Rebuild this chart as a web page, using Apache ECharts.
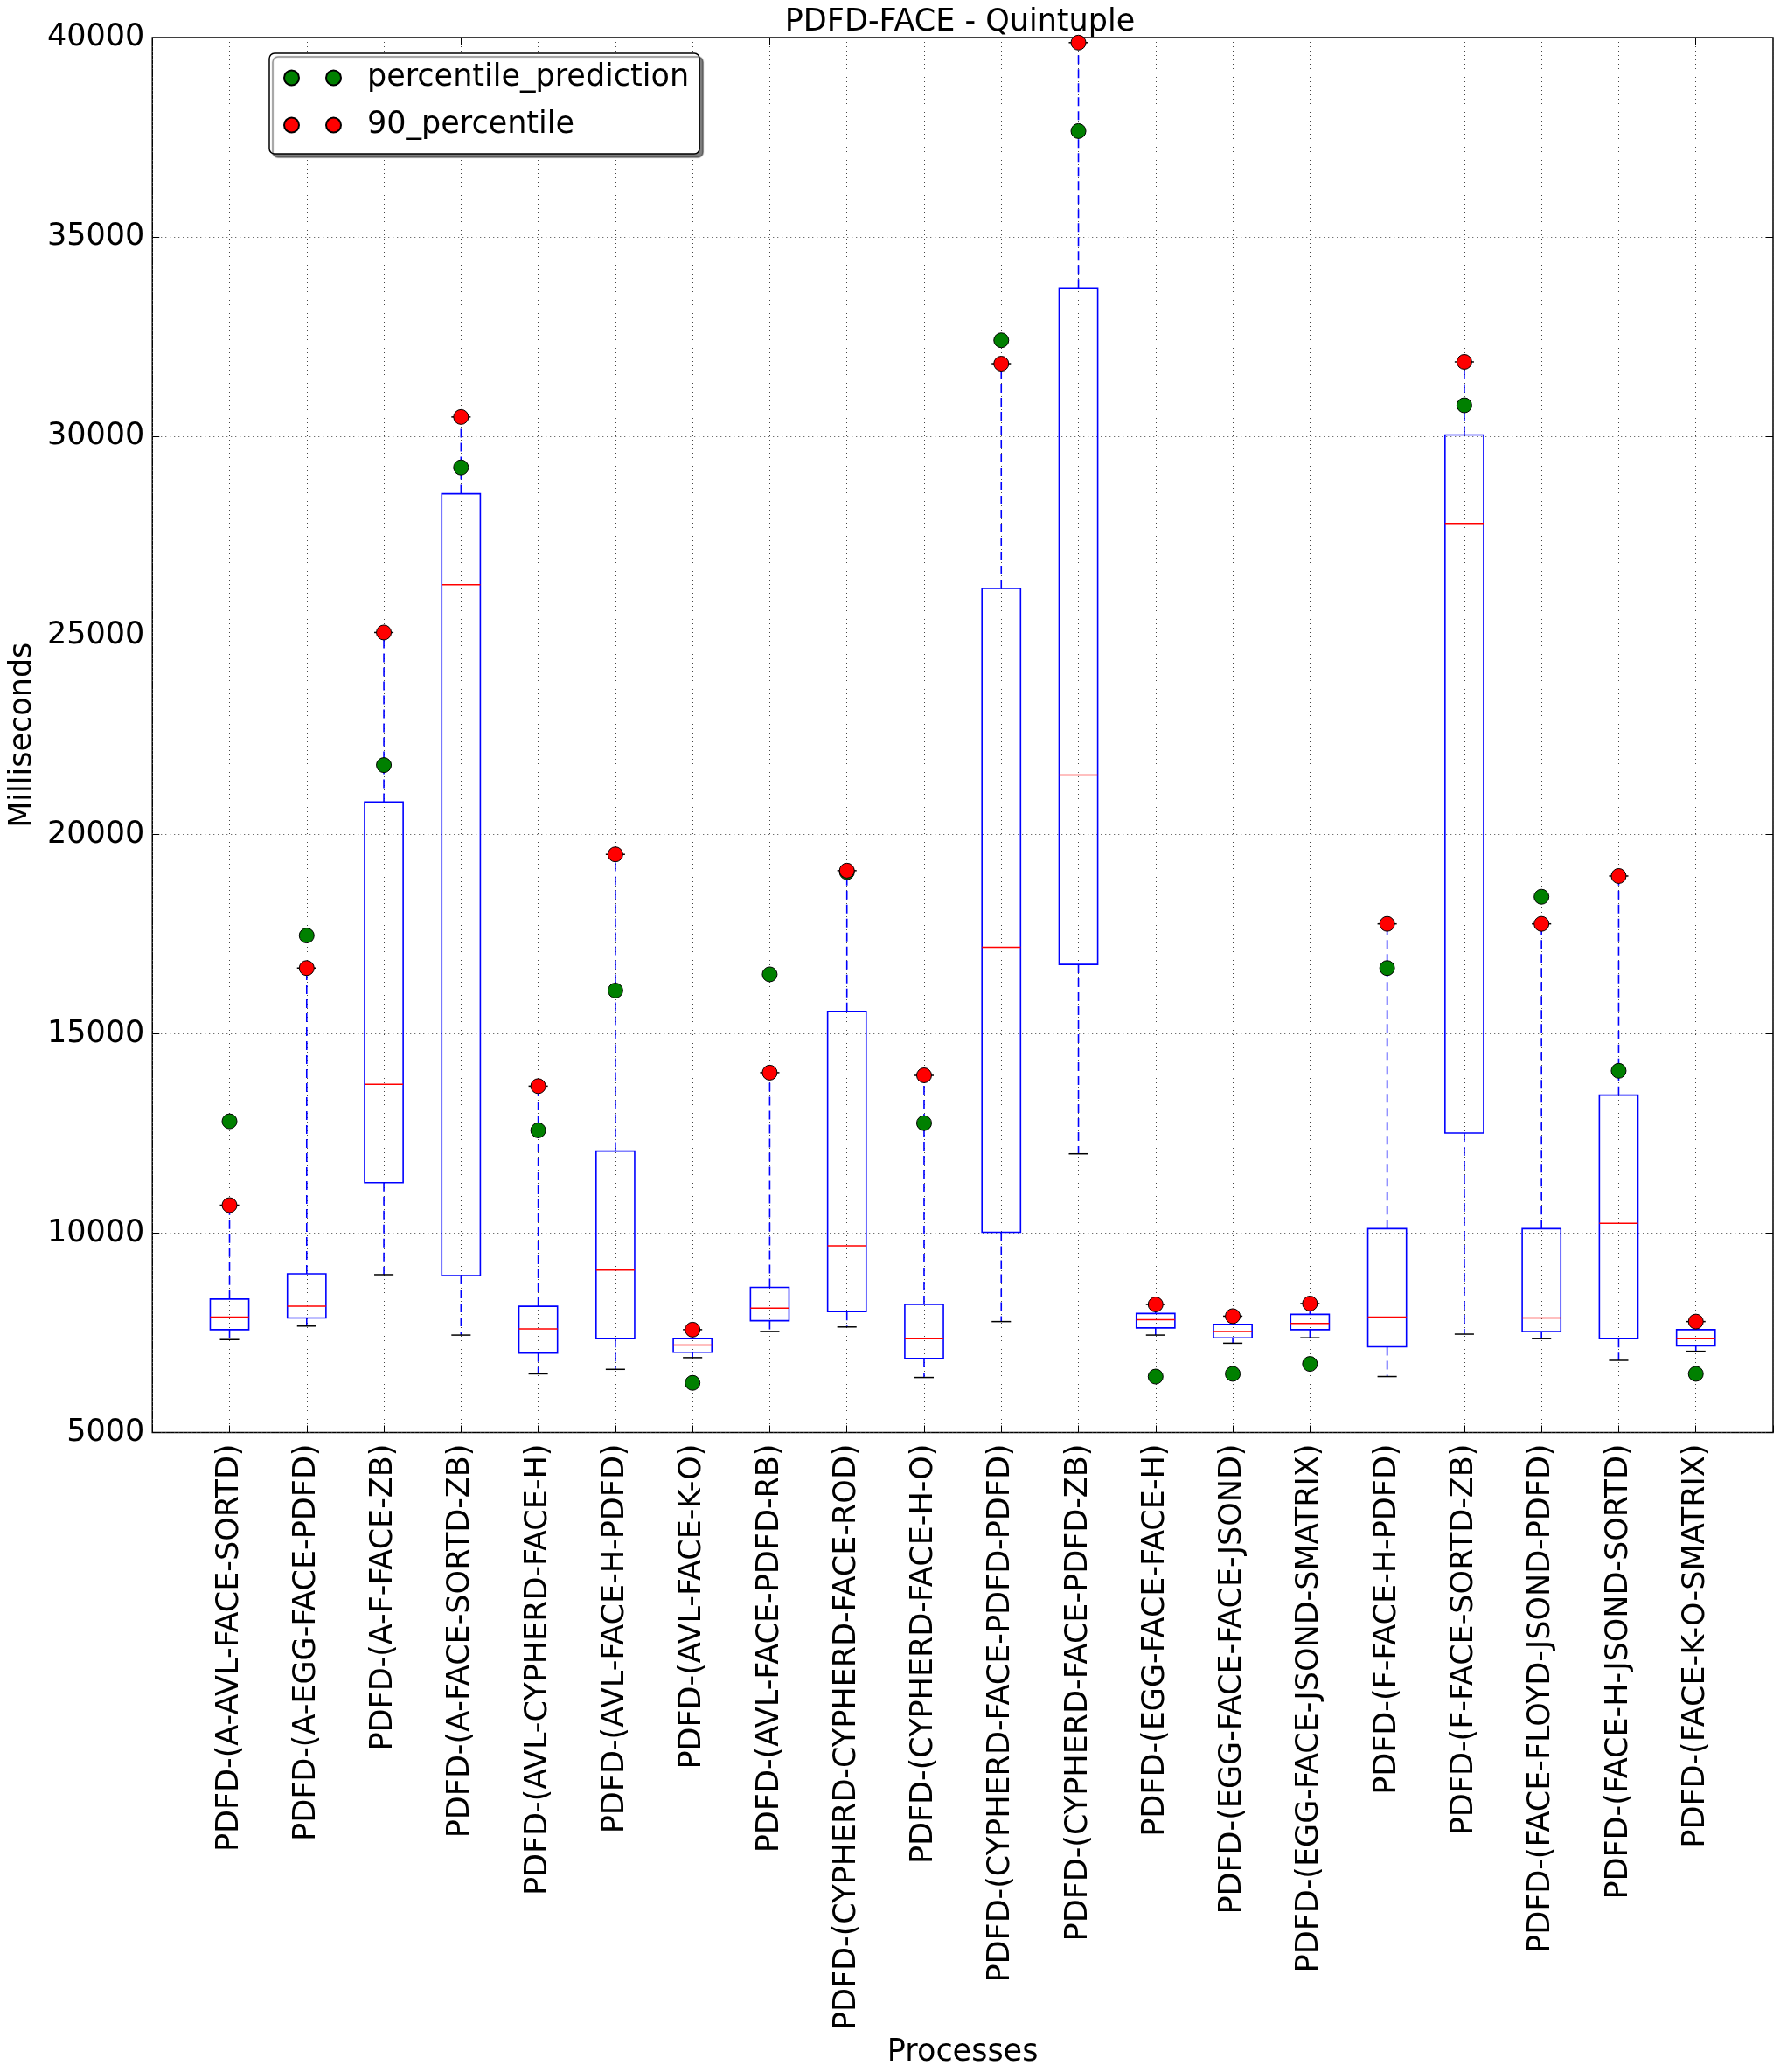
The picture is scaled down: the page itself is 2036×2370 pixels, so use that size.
<!DOCTYPE html>
<html>
<head>
<meta charset="utf-8">
<script src="https://cdn.jsdelivr.net/npm/echarts@6/dist/echarts.min.js"></script>
<style>
html,body{margin:0;padding:0;background:#fff;}
#chart{width:2036px;height:2370px;}
</style>
</head>
<body>
<div id="chart"></div>
<script>
// ---- Data ----
var categories = [
  'PDFD-(A-AVL-FACE-SORTD)',
  'PDFD-(A-EGG-FACE-PDFD)',
  'PDFD-(A-F-FACE-ZB)',
  'PDFD-(A-FACE-SORTD-ZB)',
  'PDFD-(AVL-CYPHERD-FACE-H)',
  'PDFD-(AVL-FACE-H-PDFD)',
  'PDFD-(AVL-FACE-K-O)',
  'PDFD-(AVL-FACE-PDFD-RB)',
  'PDFD-(CYPHERD-CYPHERD-FACE-ROD)',
  'PDFD-(CYPHERD-FACE-H-O)',
  'PDFD-(CYPHERD-FACE-PDFD-PDFD)',
  'PDFD-(CYPHERD-FACE-PDFD-ZB)',
  'PDFD-(EGG-FACE-FACE-H)',
  'PDFD-(EGG-FACE-FACE-JSOND)',
  'PDFD-(EGG-FACE-JSOND-SMATRIX)',
  'PDFD-(F-FACE-H-PDFD)',
  'PDFD-(F-FACE-SORTD-ZB)',
  'PDFD-(FACE-FLOYD-JSOND-PDFD)',
  'PDFD-(FACE-H-JSOND-SORTD)',
  'PDFD-(FACE-K-O-SMATRIX)'
];
var whiskerLow = [7331, 7670, 8960, 7444, 6471, 6584, 6878, 7535, 7648, 6380, 7783, 11993, 7444, 7240, 7376, 6403, 7467, 7354, 6810, 7037];
var q1 =         [7580, 7874, 11269, 8938, 6991, 7354, 7014, 7806, 8032, 6856, 10024, 16745, 7625, 7376, 7580, 7150, 12513, 7535, 7354, 7172];
var median =     [7897, 8168, 13735, 26272, 7602, 9073, 7195, 8123, 9684, 7354, 17175, 21497, 7829, 7535, 7738, 7897, 27811, 7874, 10250, 7354];
var q3 =         [8349, 8983, 20818, 28558, 8168, 12061, 7354, 8643, 15568, 8213, 26182, 33718, 7987, 7716, 7965, 10114, 30029, 10114, 13464, 7580];
// upper whisker ends at the 90th percentile
var p90 =        [10703, 16654, 25073, 30482, 13690, 19506, 7580, 14029, 19098, 13961, 31817, 39873, 8213, 7919, 8236, 17763, 31862, 17763, 18963, 7783];
var prediction = [12807, 17469, 21746, 29214, 12581, 16089, 6245, 16496, 19060, 12762, 32405, 37655, 6403, 6471, 6720, 16654, 30775, 18442, 14075, 6471];

var yTicks = { min: 5000, max: 40000, interval: 5000 };

// padded category list so that boxes sit at 1..20 on a 0..21 range
var axisCats = [''].concat(categories).concat(['']);

var boxData = categories.map(function (c, i) {
  return [c, whiskerLow[i], q1[i], median[i], q3[i], p90[i]];
});
var predData = categories.map(function (c, i) { return [c, prediction[i]]; });
var p90Data = categories.map(function (c, i) { return [c, p90[i]]; });

var FONT = 'DejaVu Sans';
var FS = 35;
var twoDots = 'path://M0,8.5a8.5,8.5 0 1,0 17,0a8.5,8.5 0 1,0 -17,0zM48,8.5a8.5,8.5 0 1,0 17,0a8.5,8.5 0 1,0 -17,0z';

var chart = echarts.init(document.getElementById('chart'), null, { renderer: 'canvas' });

function renderBox(params, api) {
  var x = api.value(0);
  var band = api.size([1, 0])[0];
  var bw = band * 0.5, cw = band * 0.25;
  var pLo = api.coord([x, api.value(1)]);
  var pQ1 = api.coord([x, api.value(2)]);
  var pMed = api.coord([x, api.value(3)]);
  var pQ3 = api.coord([x, api.value(4)]);
  var pHi = api.coord([x, api.value(5)]);
  var cx = pQ1[0];
  var blue = '#0000ff';
  return {
    type: 'group',
    children: [
      { type: 'line', shape: { x1: cx, y1: pQ3[1], x2: cx, y2: pHi[1] },
        style: { stroke: blue, lineWidth: 1.6, lineDash: [10, 6] } },
      { type: 'line', shape: { x1: cx, y1: pQ1[1], x2: cx, y2: pLo[1] },
        style: { stroke: blue, lineWidth: 1.6, lineDash: [10, 6] } },
      { type: 'line', shape: { x1: cx - cw / 2, y1: pHi[1], x2: cx + cw / 2, y2: pHi[1] },
        style: { stroke: '#000', lineWidth: 1.5 } },
      { type: 'line', shape: { x1: cx - cw / 2, y1: pLo[1], x2: cx + cw / 2, y2: pLo[1] },
        style: { stroke: '#000', lineWidth: 1.5 } },
      { type: 'rect', shape: { x: cx - bw / 2, y: pQ3[1], width: bw, height: pQ1[1] - pQ3[1] },
        style: { fill: 'none', stroke: blue, lineWidth: 1.6 } },
      { type: 'line', shape: { x1: cx - bw / 2, y1: pMed[1], x2: cx + bw / 2, y2: pMed[1] },
        style: { stroke: '#ff0000', lineWidth: 1.5 } }
    ]
  };
}

var option = {
  animation: false,
  backgroundColor: '#fff',
  textStyle: { fontFamily: FONT, color: '#000' },
  title: {
    text: 'PDFD-FACE - Quintuple',
    left: 1093,
    textAlign: 'center',
    top: 3,
    textStyle: { fontFamily: FONT, fontSize: FS, fontWeight: 'normal', color: '#000' }
  },
  legend: {
    orient: 'vertical',
    left: 308,
    top: 61,
    padding: [8, 12, 13, 16],
    itemGap: 14,
    itemWidth: 65,
    itemHeight: 17,
    backgroundColor: '#fff',
    borderColor: '#000',
    borderWidth: 1.5,
    borderRadius: 6,
    shadowColor: 'rgba(0,0,0,0.5)',
    shadowBlur: 1,
    shadowOffsetX: 4,
    shadowOffsetY: 4,
    textStyle: { fontFamily: FONT, fontSize: FS, color: '#000', lineHeight: 40, padding: [0, 0, 0, 25] },
    data: [
      { name: 'percentile_prediction', icon: twoDots },
      { name: '90_percentile', icon: twoDots }
    ]
  },
  grid: {
    left: 167, top: 43, width: 1861, height: 1600,
    show: true, borderColor: '#000', borderWidth: 1.5, backgroundColor: 'transparent'
  },
  xAxis: [
    {
      type: 'category',
      data: axisCats,
      boundaryGap: false,
      name: 'Processes',
      nameLocation: 'middle',
      nameGap: 679,
      nameTextStyle: { fontFamily: FONT, fontSize: FS, color: '#000' },
      axisLine: { show: false },
      axisTick: { show: true, inside: true, length: 8, lineStyle: { color: '#000', width: 1 } },
      axisLabel: { interval: 0, rotate: 90, margin: 13, fontFamily: FONT, fontSize: FS, color: '#000' },
      splitLine: { show: true, interval: 0, lineStyle: { color: '#444', width: 1, type: [1, 4] } }
    },
    {
      type: 'category',
      data: axisCats,
      boundaryGap: false,
      position: 'top',
      axisLine: { show: false },
      axisTick: { show: true, inside: true, length: 8, lineStyle: { color: '#000', width: 1 } },
      axisLabel: { show: false },
      splitLine: { show: false }
    }
  ],
  yAxis: [
    {
      type: 'value',
      min: yTicks.min, max: yTicks.max, interval: yTicks.interval,
      name: 'Milliseconds',
      nameLocation: 'middle',
      nameGap: 122,
      nameRotate: 90,
      nameTextStyle: { fontFamily: FONT, fontSize: FS, color: '#000' },
      axisLine: { show: false },
      axisTick: { show: true, inside: true, length: 8, lineStyle: { color: '#000', width: 1 } },
      axisLabel: { margin: 9, fontFamily: FONT, fontSize: FS, color: '#000', formatter: function (v) { return String(v); } },
      splitLine: { show: true, lineStyle: { color: '#444', width: 1, type: [1, 4] } }
    },
    {
      type: 'value',
      min: yTicks.min, max: yTicks.max, interval: yTicks.interval,
      position: 'right',
      axisLine: { show: false },
      axisTick: { show: true, inside: true, length: 8, lineStyle: { color: '#000', width: 1 } },
      axisLabel: { show: false },
      splitLine: { show: false }
    }
  ],
  series: [
    {
      type: 'custom',
      name: 'box',
      xAxisIndex: 0, yAxisIndex: 0,
      renderItem: renderBox,
      encode: { x: 0, y: [1, 2, 3, 4, 5] },
      data: boxData,
      z: 2
    },
    {
      type: 'scatter',
      name: 'percentile_prediction',
      xAxisIndex: 0, yAxisIndex: 0,
      symbol: 'circle',
      symbolSize: 17,
      itemStyle: { color: '#008000', borderColor: '#000', borderWidth: 1, opacity: 1 },
      data: predData,
      z: 3
    },
    {
      type: 'scatter',
      name: '90_percentile',
      xAxisIndex: 0, yAxisIndex: 0,
      symbol: 'circle',
      symbolSize: 17,
      itemStyle: { color: '#ff0000', borderColor: '#000', borderWidth: 1, opacity: 1 },
      data: p90Data,
      z: 4
    }
  ]
};
chart.setOption(option);
</script>
</body>
</html>
